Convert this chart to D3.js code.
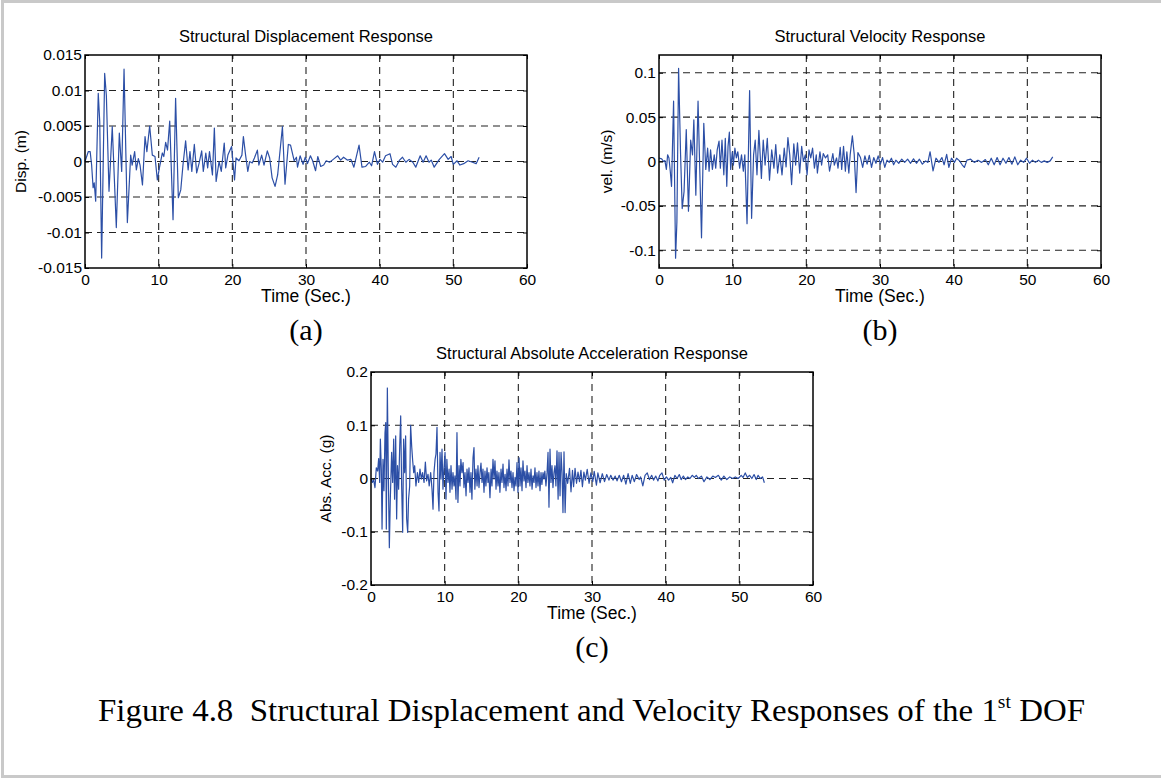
<!DOCTYPE html>
<html>
<head>
<meta charset="utf-8">
<script src="https://cdn.jsdelivr.net/npm/d3@7"></script>
<style>
  body { margin: 0; background: #fff; }
  svg { display: block; }
  text { font-family: "Liberation Sans", Arial, Helvetica, sans-serif; }
  .serif { font-family: "Liberation Serif", "Times New Roman", serif; }
</style>
</head>
<body>
<svg id="fig" width="1161" height="778"></svg>
<script>
// tick values
const timeTicks = [0, 10, 20, 30, 40, 50, 60];
const dispTicks = [-0.015, -0.01, -0.005, 0, 0.005, 0.01, 0.015];
const velTicks = [-0.1, -0.05, 0, 0.05, 0.1];
const accTicks = [-0.2, -0.1, 0, 0.1, 0.2];

// [time (s), displacement (m)]
const dispData = [
  [0,0],[0.45,0.0014],[0.7,0.0014],[0.9,-0.0005],[1.1,-0.0037],[1.25,-0.003],[1.45,-0.0056],[1.8,0.0096],[2.0,0.0056],[2.26,-0.0136],
  [2.67,0.0124],[2.9,0.0093],[3.26,-0.0042],[3.7,0.0049],[4.25,-0.0093],[4.66,0.004],[4.98,-0.0014],[5.3,0.013],[5.75,-0.0086],[6.2,0.0009],
  [6.4,-0.0005],[6.74,0.0014],[6.97,-0.0012],[7.24,0.0004],[7.47,-0.0005],[7.8,-0.0033],[8.15,0.0035],[8.4,0.0014],[8.78,0.005],[9.14,0.0009],
  [9.5,0.0007],[9.82,-0.0026],[10.1,-0.0009],[10.5,0.0012],[10.7,0.0007],[10.95,0.0027],[11.2,0.0016],[11.5,0.0057],[11.95,-0.0082],[12.3,0.0089],
  [12.67,-0.0051],[13.0,-0.004],[13.3,-0.0005],[13.66,0.0029],[14.0,-0.0012],[14.25,0.0014],[14.5,-0.0014],[14.84,0.0024],[15.16,-0.0016],[15.5,-0.0002],
  [15.84,0.0015],[16.06,-0.0014],[16.4,0.0012],[16.65,-0.0009],[16.9,0.0014],[17.3,-0.0019],[17.56,0.0047],[17.8,-0.0028],[18.2,0],[18.5,-0.0014],
  [18.9,0.0026],[19.1,-0.0009],[19.4,0.0009],[19.9,0.0021],[20.3,-0.0026],[20.5,0.0005],[20.9,0.0001],[21.3,0.0009],[21.5,0.0035],[21.8,0.0009],
  [22.1,-0.0014],[22.35,0],[22.7,-0.0002],[23.0,0.0005],[23.4,0.0016],[23.6,-0.0005],[23.98,0.0009],[24.3,-0.0005],[24.75,0.0015],[25.07,0.0005],
  [25.4,-0.0023],[25.8,-0.0035],[26.15,-0.0019],[26.8,0.0049],[27.15,-0.0032],[27.6,0.0024],[27.9,0.0023],[28.4,0.0001],[28.7,0.0006],[28.85,-0.0008],
  [29.2,0.0008],[29.6,-0.0004],[29.9,0.0006],[30.2,-0.0003],[30.6,0.0008],[30.9,0.0001],[31.3,-0.0013],[31.6,0.0007],[32.0,-0.0007],[32.4,-0.0005],
  [32.75,0.0001],[33.2,-0.0001],[33.7,0.0003],[34.3,0.0008],[34.7,0.0002],[35.1,0.0006],[35.6,0.0002],[36.1,0.0003],[36.5,-0.0008],[37.2,0.0023],
  [37.6,-0.0008],[38.1,-0.0007],[38.6,-0.0001],[38.9,-0.0006],[39.3,0.0014],[39.7,-0.0004],[40.05,0.0003],[40.4,-0.0001],[40.8,0.0008],[41.4,0.0011],
  [41.75,-0.0004],[42.2,-0.0008],[42.7,0.0002],[43.1,0.0006],[43.55,-0.0001],[44.0,0.0003],[44.5,-0.0001],[44.9,-0.0008],[45.5,0.0008],[45.9,-0.0001],
  [46.3,0.0008],[46.7,-0.0001],[47.0,0.0002],[47.4,-0.0008],[48.1,0.0003],[48.8,0.0011],[49.3,0.0003],[49.7,0.0007],[50.0,-0.0004],[50.5,0.0001],
  [50.9,-0.0005],[51.4,-0.0003],[52.0,0.0001],[52.6,-0.0001],[53.1,-0.0003],[53.5,0.0006]
];

// [time (s), velocity (m/s)]
const velData = [
  [0,0.004],[0.36,0.003],[0.63,0],[0.8,0.001],[1.0,-0.009],[1.17,0.0075],[1.35,0.004],[1.53,-0.011],[1.7,-0.028],[1.98,0.068],
  [2.25,-0.109],[2.43,-0.068],[2.66,0.105],[2.93,0.0075],[3.15,-0.053],[3.4,-0.034],[3.7,0.036],[4.0,-0.056],[4.3,0.024],[4.55,0.0075],
  [4.73,0.047],[5.0,-0.038],[5.3,0.068],[5.77,-0.086],[6.08,0.043],[6.35,-0.009],[6.6,0.015],[6.8,-0.011],[7.0,0.013],[7.25,-0.009],
  [7.5,0.0075],[7.7,-0.0075],[7.9,0.013],[8.15,0.023],[8.33,-0.0075],[8.55,0.024],[8.8,-0.015],[9.0,0.026],[9.2,-0.028],[9.37,0.017],
  [9.55,0.033],[9.73,-0.009],[9.95,0.011],[10.1,-0.004],[10.3,0.015],[10.5,0.004],[10.7,0.011],[10.95,-0.0075],[11.2,0.0075],[11.45,-0.011],
  [11.65,0.0075],[11.95,-0.07],[12.3,0.08],[12.57,-0.064],[12.84,0.0075],[13.06,0.024],[13.3,-0.015],[13.56,0.035],[13.9,-0.019],[14.15,0.024],
  [14.4,-0.004],[14.7,0.026],[15.0,-0.021],[15.3,0.013],[15.6,-0.0075],[15.85,0.019],[16.1,-0.013],[16.4,0.0075],[16.7,-0.015],[17.0,0.015],
  [17.25,-0.006],[17.5,0.027],[17.75,0.0075],[18.0,-0.026],[18.3,0.02],[18.55,-0.004],[18.8,0.021],[19.1,-0.013],[19.37,0.017],[19.6,0],
  [19.86,0.0075],[20.1,-0.015],[20.36,0.013],[20.6,0.004],[20.85,0.015],[21.1,-0.0075],[21.35,0.0075],[21.5,-0.013],[21.85,0.011],[22.07,-0.004],
  [22.3,0.009],[22.6,0.004],[22.9,0.0075],[23.15,-0.011],[23.4,0],[23.6,0.009],[23.8,-0.004],[24.1,0.004],[24.3,-0.0075],[24.6,0.016],
  [24.8,-0.009],[25.05,0.017],[25.3,-0.011],[25.5,0.011],[25.77,-0.013],[25.95,0.0075],[26.25,0.029],[26.5,0.008],[26.75,-0.035],[27.0,0.01],
  [27.35,0.0045],[27.65,-0.0067],[27.95,0.0064],[28.25,-0.003],[28.55,0.007],[28.85,-0.0067],[29.15,0.0045],[29.45,-0.002],[29.75,0.0064],[30.05,-0.003],
  [30.35,0.0045],[30.65,-0.0067],[30.95,0.0015],[31.25,-0.001],[31.55,0.0037],[31.85,-0.0037],[32.15,0.0015],[32.55,-0.002],[32.95,0.0026],[33.35,-0.001],
  [33.75,0.0026],[34.15,-0.002],[34.55,0.003],[34.95,-0.002],[35.35,0.0026],[35.75,-0.003],[36.2,0.0007],[36.5,-0.001],[36.8,0.011],[37.2,-0.0105],
  [37.6,0.0037],[38.0,-0.001],[38.4,0.0045],[38.7,-0.0037],[39.05,0.008],[39.35,-0.0067],[39.7,0.0037],[40.1,-0.001],[40.4,0.0037],[40.8,0.0007],
  [41.15,-0.0037],[41.45,-0.0067],[41.8,0.0015],[42.3,0.0026],[42.8,-0.001],[43.3,0.0015],[43.8,-0.001],[44.3,0.0022],[44.7,-0.0037],[45.1,0.0037],
  [45.5,-0.0037],[45.9,0.0045],[46.3,-0.0037],[46.7,0.0037],[47.1,-0.002],[47.5,0.0045],[47.9,-0.003],[48.3,0.0052],[48.7,-0.0037],[49.1,0.0015],
  [49.5,-0.001],[49.9,0.0037],[50.3,-0.002],[50.7,0.0015],[51.1,-0.001],[51.5,0.0015],[51.9,-0.001],[52.3,0.0007],[52.7,-0.001],[53.1,0.0007],
  [53.45,0.0052]
];

// [time (s), absolute acceleration (g)]
const accData = [
  [0,0],[0.18,-0.0075],[0.36,-0.0025],[0.54,-0.017],[0.72,0.02],[0.9,0.014],[1.04,0.0375],[1.18,-0.0075],[1.27,0.074],[1.4,0.0175],
  [1.5,-0.095],[1.63,0.036],[1.76,-0.023],[1.9,0.086],[2.0,0.105],[2.08,-0.095],[2.22,0.17],[2.35,0.011],[2.49,-0.13],[2.62,-0.039],
  [2.8,0.049],[2.94,-0.0075],[3.08,0.074],[3.2,-0.039],[3.35,0.08],[3.48,-0.076],[3.6,0.024],[3.75,-0.02],[3.9,0.061],[4.03,0.1175],
  [4.16,-0.014],[4.3,-0.101],[4.43,0.074],[4.57,0.011],[4.7,0.08],[4.84,-0.076],[4.98,-0.101],[5.1,-0.039],[5.25,-0.014],[5.38,0.1],
  [5.52,0.061],[5.66,0.033],[5.8,0.011],[5.93,0.024],[6.1,-0.014],[6.3,0.011],[6.47,-0.0075],[6.65,0.0175],[6.83,-0.001],[7.0,0.011],
  [7.2,-0.0075],[7.38,0.031],[7.55,-0.0045],[7.74,0.008],[7.9,-0.014],[8.1,0.011],[8.28,-0.02],[8.42,-0.0575],[8.55,0.011],[8.7,0.036],
  [8.82,0.046],[8.96,0.096],[9.1,-0.026],[9.23,-0.061],[9.37,0.049],[9.5,-0.001],[9.64,0.055],[9.77,-0.02],[9.9,0.0175],[10.05,0.049],
  [10.18,-0.039],[10.3,0.036],[10.45,-0.0075],[10.6,0.0175],[10.72,-0.026],[10.86,0.024],[11.0,-0.02],[11.13,0.011],[11.27,-0.014],[11.4,0.005],
  [11.54,-0.039],[11.67,0.086],[11.8,-0.045],[11.95,0.024],[12.08,-0.014],[12.2,0.036],[12.35,0.011],[12.5,0.03],[12.62,-0.017],[12.76,0.011],
  [12.9,-0.0325],[13.03,0.0175],[13.17,-0.0075],[13.3,0.02],[13.44,-0.026],[13.57,0.011],[13.7,-0.039],[13.85,0.039],[13.98,0.058],[14.1,-0.02],
  [14.25,0.0175],[14.4,-0.014],[14.52,0.024],[14.66,-0.017],[14.8,0.011],[14.93,0.029],[15.07,-0.0075],[15.2,0.0175],[15.34,-0.026],[15.47,0.014],
  [15.6,-0.014],[15.75,0.02],[15.88,-0.0075],[16.0,0.011],[16.15,-0.036],[16.3,0.0175],[16.42,-0.014],[16.56,0.036],[16.7,-0.001],[16.83,0.033],
  [16.97,-0.02],[17.1,0.014],[17.24,-0.014],[17.37,0.011],[17.5,-0.026],[17.65,0.0175],[17.78,-0.0075],[17.92,0.027],[18.05,-0.017],[18.2,0.008],
  [18.33,-0.023],[18.46,0.0175],[18.6,-0.014],[18.73,0.035],[18.87,-0.0075],[19.0,0.014],[19.14,-0.017],[19.28,0.011],[19.41,-0.023],[19.55,0.002],
  [19.68,-0.014],[19.82,0.03],[19.95,-0.026],[20.1,0.039],[20.23,-0.014],[20.36,0.02],[20.5,-0.023],[20.63,0.033],[20.77,-0.0045],[20.9,0.014],
  [21.04,-0.017],[21.18,0.024],[21.3,-0.0075],[21.45,0.011],[21.58,-0.014],[21.72,0.0175],[21.86,-0.02],[22.0,0.005],[22.13,-0.0075],[22.26,0.02],
  [22.4,-0.017],[22.53,0.011],[22.67,-0.014],[22.8,0.014],[22.94,-0.023],[23.08,0.011],[23.2,-0.011],[23.35,0.011],[23.48,-0.001],[23.6,0.014],
  [23.75,-0.014],[23.9,0.011],[24.03,0.049],[24.16,-0.054],[24.3,0.055],[24.43,-0.0075],[24.57,0.024],[24.7,-0.017],[24.84,0.011],[24.98,0.024],
  [25.1,-0.014],[25.25,0.052],[25.4,-0.039],[25.52,0.049],[25.66,-0.0325],[25.8,0.049],[25.93,0.011],[26.06,-0.064],[26.2,0.05],[26.35,-0.064],
  [26.5,0.009],[26.7,-0.009],[26.95,0.019],[27.15,-0.025],[27.35,0.0155],[27.5,-0.0155],[27.7,0.019],[27.9,-0.009],[28.1,0.012],[28.3,-0.006],
  [28.5,0.0155],[28.7,-0.0155],[28.9,0.012],[29.1,-0.003],[29.35,0.017],[29.6,-0.009],[29.85,0.0105],[30.1,-0.006],[30.3,0.0135],[30.6,-0.0125],
  [30.8,0.0105],[31.1,-0.008],[31.4,0.009],[31.7,-0.006],[32.0,0.0075],[32.3,-0.003],[32.55,0.006],[32.85,-0.003],[33.15,0.0045],[33.4,-0.0045],
  [33.7,0.006],[34.0,-0.006],[34.3,0.006],[34.6,-0.0105],[34.9,0.009],[35.2,-0.009],[35.45,0.006],[35.75,-0.006],[36.05,0.0075],[36.4,-0.002],
  [36.6,0.003],[36.9,-0.014],[37.2,0.006],[37.5,0.0105],[37.8,-0.002],[38.1,0.006],[38.35,-0.003],[38.65,0.0045],[38.95,-0.0045],[39.2,0.006],
  [39.5,0.0105],[39.8,-0.003],[40.1,0.003],[40.4,-0.003],[40.7,0.002],[40.95,-0.008],[41.25,0.006],[41.55,0],[41.85,0.0075],[42.1,-0.002],
  [42.4,0.0045],[42.7,-0.002],[43.0,0.003],[43.3,0],[43.6,0.006],[43.9,0.002],[44.15,0.006],[44.45,0],[44.85,0.0045],[45.2,-0.006],
  [45.6,0.003],[46.0,-0.002],[46.4,0.0045],[46.75,0.002],[47.15,0.006],[47.55,-0.003],[47.9,0.0045],[48.3,-0.002],[48.7,0.003],[49.1,0],
  [49.45,0.003],[49.85,0],[50.25,0.006],[50.5,0.002],[50.8,0.0105],[51.1,0.002],[51.4,0.006],[51.7,0],[52.0,0.0075],[52.3,-0.002],
  [52.55,0.006],[52.85,0],[53.15,0.003],[53.4,-0.008]
];

const svg = d3.select("#fig");

// light frame around the figure (no right edge)
svg.append("path")
  .attr("d", "M1161,1.5H2.5V776.5H1161")
  .attr("fill", "none")
  .attr("stroke", "#c9c9c9")
  .attr("stroke-width", 3);

const W = 442, H = 213;

function drawPanel(o) {
  const g = svg.append("g").attr("transform", `translate(${o.left},${o.top})`);

  const x = d3.scaleLinear().domain([0, 60]).range([0, W]);
  const y = d3.scaleLinear().domain(o.domain).range([H, 0]);

  // dashed grid
  const grid = g.append("g");
  grid.selectAll("line.v")
    .data(timeTicks.filter(t => t > 0 && t < 60))
    .join("line").attr("class", "v")
    .attr("x1", d => x(d)).attr("x2", d => x(d))
    .attr("y1", 0).attr("y2", H);
  grid.selectAll("line.h")
    .data(o.ticks.filter(t => t > o.domain[0] && t < o.domain[1]))
    .join("line").attr("class", "h")
    .attr("x1", 0).attr("x2", W)
    .attr("y1", d => y(d)).attr("y2", d => y(d));
  grid.selectAll("line")
    .attr("stroke", "#222")
    .attr("stroke-width", 1.1)
    .attr("stroke-dasharray", "7,5");

  // the response trace
  const line = d3.line().x(d => x(d[0])).y(d => y(d[1]));
  g.append("path")
    .datum(o.data)
    .attr("d", line)
    .attr("fill", "none")
    .attr("stroke", "#2c4fa6")
    .attr("stroke-width", 1.2)
    .attr("stroke-linejoin", "round");

  // axes, ticks pointing inside like matlab
  const xa = g.append("g").attr("transform", `translate(0,${H})`)
    .call(d3.axisBottom(x).tickValues(timeTicks).tickSize(-4).tickPadding(6).tickFormat(String));
  const ya = g.append("g")
    .call(d3.axisLeft(y).tickValues(o.ticks).tickSize(-4).tickPadding(3).tickFormat(String));
  g.append("g").call(d3.axisTop(x).tickValues(timeTicks).tickSize(-4).tickFormat(""));
  g.append("g").attr("transform", `translate(${W},0)`)
    .call(d3.axisRight(y).tickValues(o.ticks).tickSize(-4).tickFormat(""));

  g.selectAll(".domain").remove();
  g.selectAll(".tick line").attr("stroke", "#000");
  xa.selectAll("text").attr("font-size", 15.5).attr("fill", "#000");
  ya.selectAll("text").attr("font-size", 15.5).attr("fill", "#000");

  g.append("rect")
    .attr("width", W).attr("height", H)
    .attr("fill", "none")
    .attr("stroke", "#000")
    .attr("stroke-width", 1.5);

  // labels
  g.append("text")
    .attr("x", W / 2).attr("y", -13)
    .attr("text-anchor", "middle")
    .attr("font-size", 16.5)
    .text(o.title);
  g.append("text")
    .attr("x", W / 2).attr("y", H + 34)
    .attr("text-anchor", "middle")
    .attr("font-size", 17.5)
    .text("Time (Sec.)");
  g.append("text")
    .attr("transform", `translate(${o.ylabelX},${H / 2}) rotate(-90)`)
    .attr("text-anchor", "middle")
    .attr("font-size", 15.5)
    .text(o.ylabel);
  g.append("text")
    .attr("class", "serif")
    .attr("x", W / 2).attr("y", H + 72)
    .attr("text-anchor", "middle")
    .attr("font-size", 30)
    .text(o.tag);
}

drawPanel({
  left: 85, top: 55, domain: [-0.015, 0.015], ticks: dispTicks, data: dispData,
  title: "Structural Displacement Response", ylabel: "Disp. (m)", ylabelX: -59, tag: "(a)"
});
drawPanel({
  left: 659, top: 55, domain: [-0.12, 0.12], ticks: velTicks, data: velData,
  title: "Structural Velocity Response", ylabel: "vel. (m/s)", ylabelX: -47, tag: "(b)"
});
drawPanel({
  left: 371, top: 372, domain: [-0.2, 0.2], ticks: accTicks, data: accData,
  title: "Structural Absolute Acceleration Response", ylabel: "Abs. Acc. (g)", ylabelX: -40, tag: "(c)"
});

// caption
const cap = svg.append("text")
  .attr("class", "serif")
  .attr("x", 98).attr("y", 721)
  .attr("font-size", 32)
  .attr("textLength", 987)
  .attr("lengthAdjust", "spacingAndGlyphs")
  .style("white-space", "pre");
cap.append("tspan").text("Figure 4.8  Structural Displacement and Velocity Responses of the 1");
cap.append("tspan").attr("font-size", 19).attr("dy", -13).text("st");
cap.append("tspan").attr("dy", 13).text(" DOF");
</script>
</body>
</html>
